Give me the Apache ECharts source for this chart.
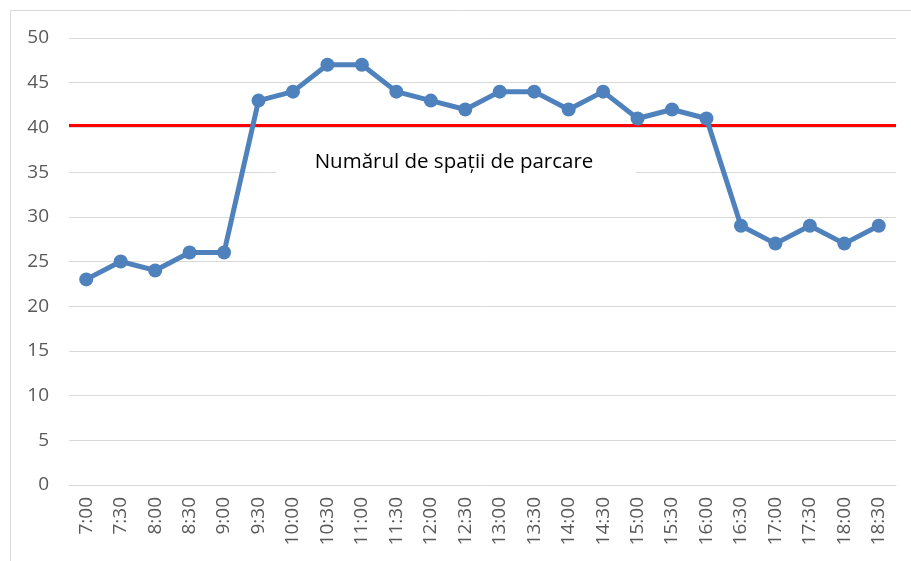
<!DOCTYPE html>
<html><head><meta charset="utf-8">
<script src="https://cdn.jsdelivr.net/npm/echarts@6/dist/echarts.min.js"></script>
<style>html,body{margin:0;padding:0;background:#fff}#c{width:911px;height:561px}</style>
</head><body><div id="c"></div>
<script>
const categories = ['7:00','7:30','8:00','8:30','9:00','9:30','10:00','10:30','11:00','11:30','12:00','12:30','13:00','13:30','14:00','14:30','15:00','15:30','16:00','16:30','17:00','17:30','18:00','18:30'];
const occupied = [23,25,24,26,26,43,44,47,47,44,43,42,44,44,42,44,41,42,41,29,27,29,27,29];
const parkingSpaces = 40.2;
const parkingLabel = 'Numărul de spații de parcare';
const yTicks = {min: 0, max: 50, interval: 5};

const chart = echarts.init(document.getElementById('c'));
chart.setOption({
  animation: false,
  backgroundColor: '#fff',
  grid: {left: 69, right: 15, top: 38, bottom: 76, containLabel: false},
  xAxis: {
    type: 'category', data: categories, boundaryGap: true,
    axisLine: {show: true, lineStyle: {color: '#D9D9D9', width: 1}},
    axisTick: {show: false},
    axisLabel: {rotate: 90, margin: 12, color: '#595959', fontFamily: 'Open Sans', fontSize: 19, interval: 0}
  },
  yAxis: {
    type: 'value', min: yTicks.min, max: yTicks.max, interval: yTicks.interval,
    axisLine: {show: false}, axisTick: {show: false},
    splitLine: {lineStyle: {color: '#D9D9D9', width: 1}},
    axisLabel: {margin: 20, color: '#595959', fontFamily: 'Open Sans', fontSize: 19}
  },
  series: [{
    type: 'line', data: occupied, z: 5,
    lineStyle: {color: '#4F81BD', width: 5},
    itemStyle: {color: '#4F81BD'},
    symbol: 'circle', symbolSize: 14,
    markLine: {
      silent: true, symbol: 'none', z: 4,
      lineStyle: {color: '#FF0000', width: 3, type: 'solid'},
      label: {show: false},
      data: [{yAxis: parkingSpaces}]
    }
  }],
  graphic: [
    {type: 'rect', z: 100, shape: {x: 10.5, y: 10.5, width: 1200, height: 1200}, style: {fill: 'none', stroke: '#D9D9D9', lineWidth: 1}},
    {type: 'rect', z: 100, shape: {x: 276, y: 145, width: 360, height: 45}, style: {fill: '#fff'}},
    {type: 'text', z: 101, x: 454, y: 162, style: {text: parkingLabel, fill: '#000', font: '20.5px "Open Sans"', textAlign: 'center', textVerticalAlign: 'middle'}}
  ]
});
</script></body></html>
